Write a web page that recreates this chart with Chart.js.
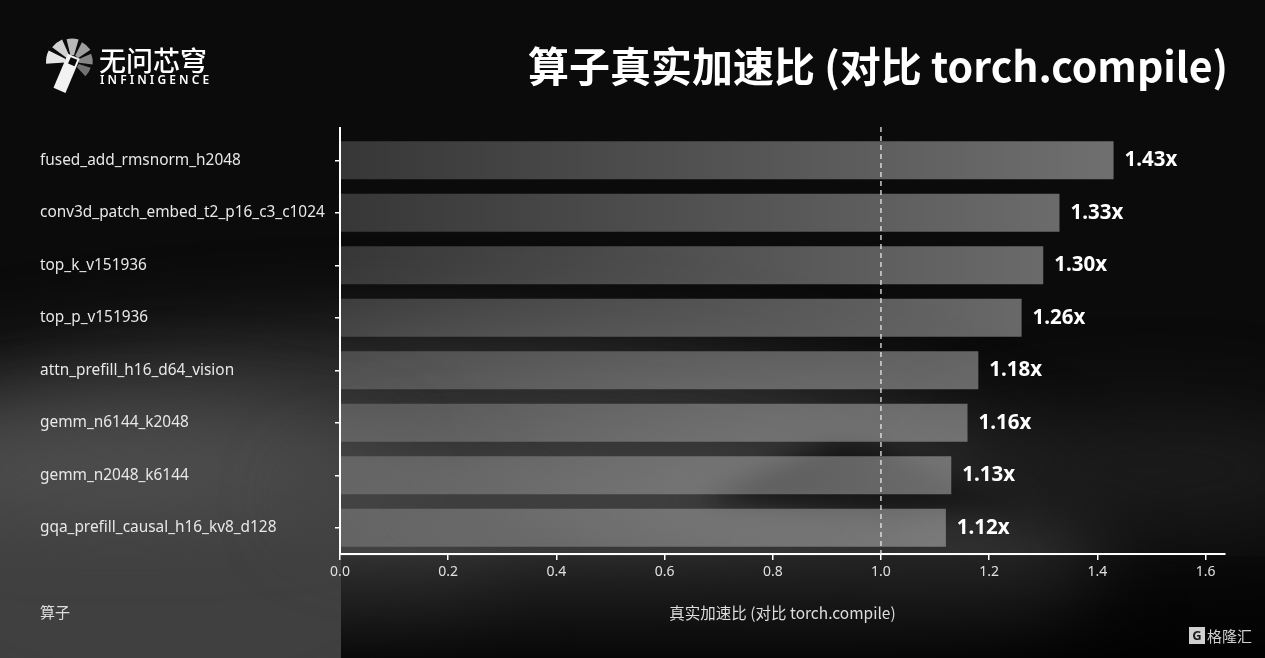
<!doctype html>
<html>
<head>
<meta charset="utf-8">
<title>算子真实加速比</title>
<style>
  html, body { margin: 0; padding: 0; background: #0b0b0b; }
  #wrap { width: 1265px; height: 658px; position: relative; }
</style>
</head>
<body>
<div id="wrap"><canvas id="speedChart"></canvas></div>
<script src="https://cdn.jsdelivr.net/npm/chart.js@4.4.1/dist/chart.umd.min.js"></script>
<script>
  // data
  const operators = [
    'fused_add_rmsnorm_h2048',
    'conv3d_patch_embed_t2_p16_c3_c1024',
    'top_k_v151936',
    'top_p_v151936',
    'attn_prefill_h16_d64_vision',
    'gemm_n6144_k2048',
    'gemm_n2048_k6144',
    'gqa_prefill_causal_h16_kv8_d128'
  ];
  const speedups = [1.43, 1.33, 1.30, 1.26, 1.18, 1.16, 1.13, 1.12];
  const xTicks = [0, 0.2, 0.4, 0.6, 0.8, 1.0, 1.2, 1.4, 1.6];
  const baseline = 1.0;

  const titleText = '算子真实加速比 (对比 torch.compile)';
  const xTitle = '真实加速比 (对比 torch.compile)';
  const yTitle = '算子';
  const brandCn = '无问芯穹';
  const brandEn = 'INFINIGENCE';
  const watermark = '格隆汇';

  const FONT = '"Noto Sans", "Noto Sans CJK SC", sans-serif';
  const CJK = '"Noto Sans CJK SC", "Noto Sans", sans-serif';
</script>
<script>
  function blob(ctx, color, x, y, rx, ry) {
    ctx.fillStyle = color;
    ctx.beginPath(); ctx.ellipse(x, y, rx, ry, 0, 0, Math.PI * 2); ctx.fill();
  }

  const backdrop = {
    id: 'backdrop',
    beforeDraw(chart) {
      const ctx = chart.ctx;
      const W = chart.width, H = chart.height;
      ctx.save();
      ctx.fillStyle = '#0b0b0b';
      ctx.fillRect(0, 0, W, H);

      // misty haze + mountains in the lower half
      ctx.filter = 'blur(40px)';
      blob(ctx, '#303030', 380, 560, 720, 230);
      blob(ctx, '#404040', 170, 580, 320, 180);
      blob(ctx, '#505050', 120, 470, 260, 40);
      blob(ctx, '#444444', 560, 500, 260, 45);
      blob(ctx, '#1c1c1c', 1150, 470, 200, 60);
      ctx.filter = 'blur(12px)';
      ctx.fillStyle = '#3e3e3e';
      ctx.beginPath();
      ctx.moveTo(400, 520); ctx.lineTo(470, 480); ctx.lineTo(510, 462); ctx.lineTo(560, 490);
      ctx.lineTo(640, 500); ctx.lineTo(720, 520); ctx.closePath(); ctx.fill();
      ctx.fillStyle = '#171717';
      ctx.beginPath();
      ctx.moveTo(700, 500); ctx.lineTo(790, 460); ctx.lineTo(840, 438); ctx.lineTo(880, 445);
      ctx.lineTo(960, 480); ctx.lineTo(1040, 505); ctx.lineTo(900, 515); ctx.closePath(); ctx.fill();
      ctx.filter = 'none';

      // darker band right of the axis, below the plot
      const g = ctx.createLinearGradient(0, 556, 0, H);
      g.addColorStop(0, 'rgba(0,0,0,0.25)');
      g.addColorStop(1, 'rgba(0,0,0,0.85)');
      ctx.fillStyle = g;
      ctx.fillRect(341, 556, W - 341, H - 556);
      ctx.restore();
    },
    afterDraw(chart) {
      const ctx = chart.ctx;
      const area = chart.chartArea;
      ctx.save();

      // extend the left spine a little above the first bar row
      ctx.strokeStyle = '#ffffff';
      ctx.lineWidth = 2;
      ctx.beginPath(); ctx.moveTo(area.left, area.top - 7); ctx.lineTo(area.left, area.top + 1); ctx.stroke();

      // title
      ctx.fillStyle = '#ffffff';
      ctx.font = 'bold 41px ' + CJK;
      ctx.textAlign = 'right';
      ctx.textBaseline = 'middle';
      ctx.fillText(titleText, 1228, 66);

      // y axis title at bottom left
      ctx.font = '15px ' + CJK;
      ctx.fillStyle = '#dedede';
      ctx.textAlign = 'left';
      ctx.fillText(yTitle, 40, 612);

      // logo: fan of wedges + white stroke
      const cx = 72, cy = 62;
      const shades = ['#e6e6e6', '#d2d2d2', '#b8b8b8', '#9e9e9e', '#868686', '#727272'];
      for (let i = 0; i < 6; i++) {
        const a0 = Math.PI * 0.98 + i * 0.7;
        ctx.fillStyle = shades[i];
        ctx.beginPath();
        ctx.arc(cx, cy, 26 - i * 1.3, a0, a0 + 0.52);
        ctx.arc(cx, cy, 7, a0 + 0.52, a0, true);
        ctx.closePath();
        ctx.fill();
      }
      ctx.save();
      ctx.translate(cx, cy);
      ctx.rotate(0.4);
      ctx.fillStyle = '#f2f2f2';
      ctx.fillRect(-7, -6, 13, 37);
      ctx.fillStyle = '#0b0b0b';
      ctx.fillRect(-3, -4, 7, 7);
      ctx.restore();

      ctx.fillStyle = '#ffffff';
      ctx.font = '500 27px ' + CJK;
      ctx.textAlign = 'left';
      ctx.fillText(brandCn, 99, 61);
      ctx.font = '600 12px ' + FONT;
      let ex = 100;
      for (const ch of brandEn) { ctx.fillText(ch, ex, 81); ex += ctx.measureText(ch).width + 3.1; }

      // watermark
      ctx.fillStyle = '#d0d0d0';
      ctx.fillRect(1189, 627, 16, 17);
      ctx.fillStyle = '#1a1a1a';
      ctx.font = 'bold 13px ' + FONT;
      ctx.textAlign = 'center';
      ctx.fillText('G', 1197, 636);
      ctx.fillStyle = '#d0d0d0';
      ctx.font = '15px ' + CJK;
      ctx.textAlign = 'left';
      ctx.fillText(watermark, 1207, 636);
      ctx.restore();
    }
  };

  const refLine = {
    id: 'refLine',
    afterDatasetsDraw(chart) {
      const ctx = chart.ctx;
      const area = chart.chartArea;
      const px = chart.scales.x.getPixelForValue(baseline);
      ctx.save();
      ctx.strokeStyle = 'rgba(235,235,235,0.85)';
      ctx.lineWidth = 1.5;
      ctx.setLineDash([5, 4]);
      ctx.beginPath(); ctx.moveTo(px, area.top - 7); ctx.lineTo(px, area.bottom); ctx.stroke();
      ctx.restore();

      // value labels
      const meta = chart.getDatasetMeta(0);
      ctx.save();
      ctx.fillStyle = '#ffffff';
      ctx.font = 'bold 20.5px ' + FONT;
      ctx.textAlign = 'left';
      ctx.textBaseline = 'middle';
      meta.data.forEach((bar, i) => {
        ctx.fillText(speedups[i].toFixed(2) + 'x', bar.x + 11, bar.y);
      });
      ctx.restore();
    }
  };

  const ctx = document.getElementById('speedChart');
  const speedChart = new Chart(ctx, {
    type: 'bar',
    data: {
      labels: operators,
      datasets: [{
        data: speedups,
        backgroundColor: function(c) {
          const chart = c.chart;
          if (!chart.chartArea) return 'rgba(255,255,255,0.3)';
          const x = chart.scales.x;
          const g = chart.ctx.createLinearGradient(x.getPixelForValue(0), 0, x.getPixelForValue(1.43), 0);
          g.addColorStop(0, 'rgba(255,255,255,0.18)');
          g.addColorStop(1, 'rgba(255,255,255,0.41)');
          return g;
        },
        borderWidth: 0,
        categoryPercentage: 1,
        barPercentage: 0.72
      }]
    },
    options: {
      indexAxis: 'y',
      responsive: true,
      maintainAspectRatio: false,
      animation: false,
      layout: { padding: { left: 40, right: 40, top: 134, bottom: 0 } },
      plugins: {
        legend: { display: false },
        tooltip: { enabled: false }
      },
      scales: {
        x: {
          min: 0,
          max: 1.636,
          afterBuildTicks: function(scale) {
            scale.ticks = xTicks.map(v => ({ value: v }));
          },
          afterFit: function(scale) { scale.height = 104; },
          ticks: {
            color: '#e0e0e0',
            font: { family: FONT, size: 14 },
            padding: 4,
            callback: v => Number(v).toFixed(1)
          },
          grid: { drawOnChartArea: false, color: '#ffffff', tickLength: 6, lineWidth: 1.5 },
          border: { display: true, color: '#ffffff', width: 2 },
          title: {
            display: true,
            text: xTitle,
            color: '#dedede',
            font: { family: CJK, size: 15.5 },
            padding: { top: 0, bottom: 36 }
          }
        },
        y: {
          afterFit: function(scale) { scale.width = 300; },
          ticks: {
            color: '#e8e8e8',
            font: { family: FONT, size: 15.4 },
            crossAlign: 'far',
            padding: 6
          },
          grid: { offset: false, drawOnChartArea: false, color: '#ffffff', tickLength: 5, lineWidth: 1.5 },
          border: { display: true, color: '#ffffff', width: 2 }
        }
      }
    },
    plugins: [backdrop, refLine]
  });
</script>
</body>
</html>
